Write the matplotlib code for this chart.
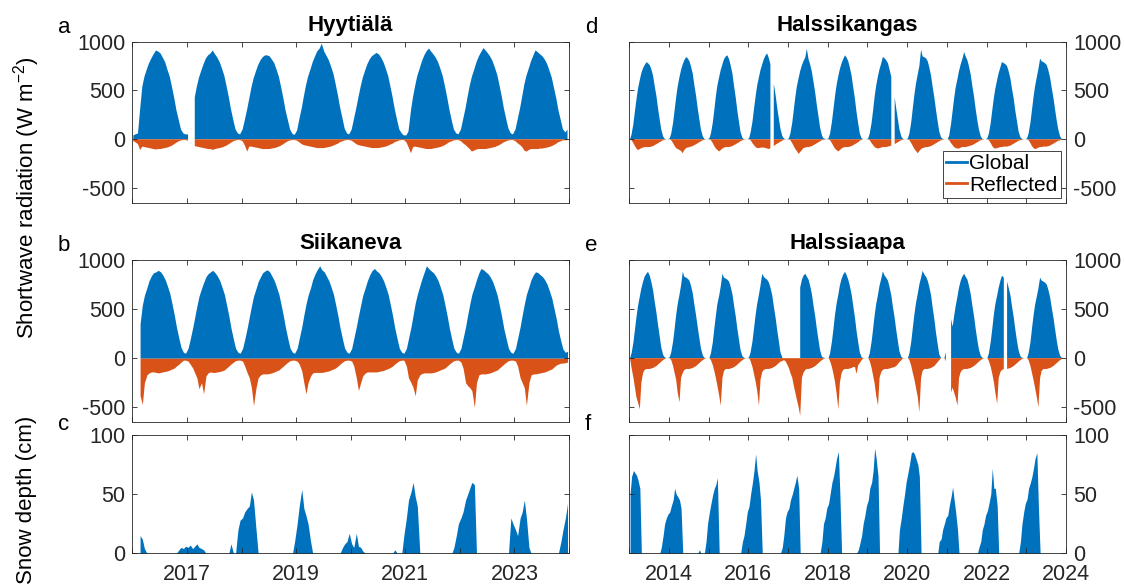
import numpy as np
import pandas as pd
import matplotlib
matplotlib.use("Agg")
import matplotlib.pyplot as plt
from matplotlib.lines import Line2D

plt.rcParams["font.family"] = ["Liberation Sans", "DejaVu Sans"]
plt.rcParams["mathtext.default"] = "regular"
plt.rcParams["axes.unicode_minus"] = False

BLUE, ORANGE, INK = "#0072BD", "#D95319", "#262626"
nan = np.nan

# ---------------------------------------------------------------
# Data: semi-monthly envelopes (one row per year)
# ---------------------------------------------------------------
# Hyytiälä 2016-2023, global (W m-2)
hyy_sw_in = [
    [40, 50, 60, 300, 540, 640, 720, 780, 830, 870, 910, 900, 880, 840, 790, 720, 640, 540, 420, 300, 190, 100, 60, 50],
    [50, nan, nan, 430, 540, 630, 710, 770, 830, 860, 880, 910, 870, 840, 790, 730, 650, 550, 430, 310, 190, 100, 60, 50],
    [100, 190, 310, 420, 530, 620, 700, 760, 810, 840, 860, 860, 850, 820, 780, 720, 640, 540, 420, 300, 190, 100, 55, 45],
    [90, 200, 320, 440, 550, 640, 720, 790, 850, 900, 930, 980, 900, 860, 810, 750, 670, 570, 450, 330, 210, 110, 60, 50],
    [100, 200, 320, 430, 540, 630, 710, 770, 820, 850, 870, 885, 870, 840, 790, 730, 650, 550, 430, 310, 190, 100, 60, 40],
    [40, 80, 300, 440, 550, 650, 730, 800, 860, 900, 930, 900, 870, 840, 790, 730, 650, 550, 430, 310, 190, 100, 60, 50],
    [100, 200, 320, 440, 550, 640, 720, 790, 850, 890, 935, 910, 880, 850, 800, 740, 660, 560, 440, 320, 200, 110, 60, 50],
    [100, 200, 320, 440, 560, 650, 730, 800, 860, 911, 890, 870, 850, 820, 770, 710, 630, 530, 420, 300, 190, 100, 70, 100],
]
# Hyytiälä reflected (W m-2)
hyy_sw_out = [
    [-20, -30, -50, -110, -75, -80, -85, -90, -95, -100, -105, -100, -100, -95, -90, -85, -75, -65, -50, -35, -20, -12, -8, -8],
    [-15, nan, nan, -70, -75, -80, -85, -90, -95, -100, -100, -109, -100, -95, -90, -85, -75, -65, -50, -35, -20, -12, -8, -8],
    [-20, -60, -126, -75, -75, -80, -85, -90, -95, -100, -100, -100, -100, -95, -90, -85, -75, -65, -50, -35, -20, -12, -8, -8],
    [-15, -30, -50, -60, -65, -70, -75, -80, -85, -90, -90, -90, -90, -85, -80, -75, -65, -55, -45, -30, -20, -12, -8, -8],
    [-15, -30, -50, -60, -65, -70, -75, -80, -85, -90, -90, -90, -90, -85, -80, -75, -65, -55, -45, -30, -20, -12, -8, -8],
    [-30, -80, -143, -80, -75, -80, -85, -90, -95, -100, -100, -100, -95, -90, -85, -80, -70, -60, -45, -30, -20, -12, -8, -8],
    [-20, -40, -60, -80, -100, -126, -115, -105, -100, -100, -100, -100, -95, -90, -85, -80, -70, -60, -45, -30, -20, -12, -8, -8],
    [-20, -40, -60, -80, -115, -126, -110, -100, -100, -100, -100, -95, -95, -90, -85, -80, -70, -60, -45, -30, -20, -12, -10, -10],
]
# Siikaneva 2016-2023, global
sii_sw_in = [
    [nan, nan, nan, 350, 540, 640, 720, 790, 840, 870, 880, 895, 880, 850, 800, 740, 660, 560, 440, 320, 200, 110, 60, 50],
    [100, 190, 310, 420, 530, 630, 710, 770, 830, 860, 880, 895, 870, 840, 790, 730, 650, 550, 430, 310, 190, 100, 60, 50],
    [100, 190, 310, 420, 530, 630, 710, 780, 830, 870, 890, 900, 880, 840, 790, 730, 650, 550, 430, 310, 190, 100, 60, 50],
    [100, 200, 320, 440, 550, 640, 720, 800, 860, 900, 941, 900, 880, 840, 790, 730, 650, 550, 430, 310, 190, 100, 60, 50],
    [100, 200, 320, 430, 540, 640, 720, 790, 850, 890, 914, 890, 870, 840, 790, 730, 650, 550, 430, 310, 190, 100, 60, 50],
    [100, 200, 320, 440, 560, 650, 740, 810, 880, 941, 910, 890, 870, 840, 790, 730, 650, 550, 430, 310, 190, 100, 60, 50],
    [100, 200, 320, 440, 550, 650, 730, 800, 870, 914, 900, 880, 860, 830, 780, 720, 640, 540, 420, 300, 190, 100, 60, 50],
    [100, 200, 320, 440, 550, 650, 730, 800, 850, 880, 870, 850, 830, 800, 750, 690, 610, 510, 400, 280, 170, 90, 60, 70],
]
sii_sw_out = [
    [nan, nan, nan, -380, -470, -250, -170, -150, -140, -140, -145, -150, -145, -140, -135, -130, -120, -110, -100, -80, -60, -40, -20, -20],
    [-30, -60, -100, -150, -200, -310, -250, -363, -180, -150, -140, -145, -145, -140, -135, -130, -120, -100, -80, -60, -40, -25, -20, -20],
    [-30, -80, -150, -200, -300, -483, -300, -200, -170, -160, -160, -160, -155, -150, -140, -130, -120, -100, -80, -60, -40, -25, -20, -20],
    [-30, -60, -130, -250, -363, -250, -180, -150, -145, -145, -145, -145, -140, -135, -130, -120, -110, -100, -80, -60, -40, -25, -20, -20],
    [-30, -80, -200, -329, -250, -180, -150, -140, -140, -140, -140, -140, -135, -130, -125, -115, -105, -95, -80, -60, -40, -25, -20, -20],
    [-80, -200, -250, -300, -383, -220, -170, -155, -150, -150, -150, -150, -145, -140, -130, -120, -110, -100, -80, -60, -40, -25, -20, -20],
    [-40, -100, -250, -280, -300, -330, -500, -250, -170, -160, -160, -160, -155, -150, -140, -130, -120, -100, -80, -60, -40, -25, -20, -20],
    [-30, -80, -200, -250, -300, -480, -250, -170, -160, -160, -155, -150, -145, -140, -130, -120, -110, -90, -70, -60, -50, -50, -45, -40],
]
# Hyytiälä snow depth (cm)
hyy_snow = [
    [nan, nan, nan, 15, 12, 4, 0, 0, 0, 0, 0, 0, 0, 0, 0, 0, 0, 0, 0, 0, 3, 5, 4, 6],
    [5, 7, 4, 6, 8, 5, 4, 3, 0, 0, 0, 0, 0, 0, 0, 0, 0, 0, 0, 8, 0, 0, 20, 28],
    [30, 35, 38, 40, 52, 45, 20, 0, 0, 0, 0, 0, 0, 0, 0, 0, 0, 0, 0, 0, 0, 0, 0, 10],
    [25, 40, 54, 38, 32, 25, 10, 0, 0, 0, 0, 0, 0, 0, 0, 0, 0, 0, 0, 0, 5, 8, 10, 17],
    [8, 5, 17, 6, 5, 2, 0, 0, 0, 0, 0, 0, 0, 0, 0, 0, 0, 0, 0, 3, 0, 0, 0, 15],
    [30, 45, 52, 60, 48, 40, 0, 0, 0, 0, 0, 0, 0, 0, 0, 0, 0, 0, 0, 0, 0, 5, 15, 25],
    [30, 35, 45, 50, 55, 60, 58, 0, 0, 0, 0, 0, 0, 0, 0, 0, 0, 0, 0, 0, 0, 0, 30, 25],
    [20, 15, 30, 35, 45, 30, 5, 0, 0, 0, 0, 0, 0, 0, 0, 0, 0, 0, 0, 0, 10, 20, 30, 42],
]
# Halssikangas 2013-2023
hka_sw_in = [
    [0, 50, 160, 290, 410, 520, 610, 680, 730, 760, 790, 780, 760, 720, 650, 550, 440, 320, 200, 100, 30, 5, 0, 0],
    [10, 60, 170, 300, 430, 540, 640, 710, 770, 810, 843, 830, 800, 750, 670, 560, 440, 320, 200, 100, 30, 5, 0, 0],
    [10, 60, 170, 300, 440, 550, 640, 710, 770, 820, 850, 860, 820, 760, 670, 550, 420, 290, 170, 70, 15, 0, 0, 0],
    [10, 70, 180, 310, 440, 550, 640, 710, 770, 820, 860, 880, 830, 770, nan, 570, 450, 330, 210, 110, 35, 10, 0, 0],
    [10, 60, 170, 300, 430, 540, 630, 700, 760, 800, 840, 928, 820, 770, 690, 590, 470, 350, 230, 120, 40, 10, 5, 0],
    [10, 60, 180, 310, 440, 550, 650, 720, 780, 820, 860, 840, 800, 740, 650, 540, 410, 280, 160, 60, 10, 0, 0, 0],
    [10, 60, 170, 300, 440, 550, 650, 720, 780, 843, 830, 810, 780, 720, 640, nan, 430, 320, 200, 100, 30, 5, 0, 0],
    [10, 60, 180, 320, 460, 570, 670, 750, 918, 850, 840, 830, 800, 740, 650, 540, 420, 300, 180, 80, 20, 5, 0, 0],
    [0, 40, 160, 290, 420, 530, 620, 700, 770, 820, 894, 850, 810, 750, 660, 550, 430, 310, 190, 100, 30, 5, 0, 0],
    [10, 60, 170, 300, 420, 520, 610, 680, 740, 792, 780, 770, 750, 700, 620, 520, 410, 290, 180, 80, 20, 5, 0, 0],
    [10, 60, 170, 300, 430, 540, 640, 720, 826, 800, 790, 780, 760, 710, 630, 530, 420, 310, 190, 100, 30, 5, 0, 0],
]
hka_sw_out = [
    [0, -10, -40, -70, -95, -110, -100, -90, -85, -80, -80, -80, -80, -75, -70, -60, -50, -40, -30, -20, -10, -5, 0, 0],
    [0, -10, -40, -70, -90, -100, -110, -120, -143, -110, -90, -85, -80, -75, -70, -60, -50, -40, -30, -20, -10, -5, 0, 0],
    [0, -10, -40, -70, -95, -110, -125, -110, -95, -85, -80, -80, -80, -75, -70, -60, -50, -40, -30, -20, -10, -5, 0, 0],
    [0, -10, -40, -60, -80, -90, -90, -85, -85, -85, -90, -95, -100, -90, nan, -70, -55, -45, -35, -25, -15, -5, 0, 0],
    [0, -10, -40, -70, -100, -120, -150, -130, -110, -90, -85, -80, -80, -75, -70, -60, -50, -40, -30, -20, -10, -5, 0, 0],
    [0, -10, -40, -70, -95, -110, -125, -110, -95, -85, -80, -80, -80, -75, -70, -60, -50, -40, -30, -15, -5, 0, 0, 0],
    [0, -10, -40, -60, -80, -90, -95, -90, -85, -80, -80, -80, -75, -70, -65, nan, -50, -40, -30, -20, -10, -5, 0, 0],
    [0, -10, -40, -70, -100, -120, -143, -120, -100, -90, -85, -80, -80, -75, -70, -60, -50, -40, -30, -20, -10, -5, 0, 0],
    [0, -10, -40, -60, -80, -90, -95, -95, -85, -80, -80, -80, -75, -70, -65, -60, -50, -40, -30, -20, -10, -5, 0, 0],
    [0, -10, -40, -70, -90, -95, -90, -85, -80, -80, -75, -75, -75, -70, -65, -55, -45, -35, -25, -15, -10, -5, 0, 0],
    [0, -10, -40, -70, -90, -100, -95, -85, -80, -80, -75, -75, -75, -70, -65, -55, -45, -35, -25, -15, -10, -5, 0, 0],
]
# Halssiaapa 2013-2023
haa_sw_in = [
    [0, 50, 160, 290, 420, 530, 630, 710, 780, 830, 860, 880, 840, 780, 690, 580, 460, 340, 220, 110, 35, 10, 0, 0],
    [10, 60, 170, 300, 440, 550, 650, 740, 880, 830, 820, 810, 790, 740, 660, 550, 430, 320, 200, 100, 30, 5, 0, 0],
    [0, 50, 160, 300, 430, 550, 640, 730, 860, 820, 810, 800, 780, 730, 650, 540, 420, 300, 180, 80, 20, 5, 0, 0],
    [10, 60, 170, 300, 440, 550, 650, 740, 860, 830, 810, 800, 770, 720, 640, 530, 410, 290, 170, 60, 10, nan, nan, nan],
    [nan, nan, nan, nan, nan, nan, nan, 720, 800, 840, 860, 830, 800, 740, 650, 540, 420, 300, 180, 80, 15, 5, 0, 0],
    [0, 50, 170, 300, 440, 550, 650, 740, 810, 850, 880, 850, 800, 740, 650, 540, 410, 280, 160, 60, 10, 0, 0, 0],
    [0, 50, 170, 300, 440, 550, 650, 740, 810, 884, 840, 820, 790, 730, 640, 530, 410, 290, 170, 70, 15, 0, 0, 0],
    [0, 50, 170, 310, 450, 560, 660, 750, 820, 890, 850, 830, 790, 730, 640, 520, 390, 260, 140, 40, 0, 0, 0, 60],
    [nan, nan, 400, 320, 430, 530, 630, 720, 790, 830, 860, 830, 800, 740, 650, 540, 420, 300, 180, 90, 25, 5, 0, 0],
    [0, 50, 170, 300, 440, 550, 640, 720, 790, 840, 820, nan, 780, 720, 640, 530, 410, 290, 170, 80, 20, 5, 0, 0],
    [0, 50, 160, 300, 430, 540, 630, 710, 820, 790, 780, 770, 750, 700, 620, 520, 410, 300, 180, 90, 25, 5, 0, 0],
]
haa_sw_out = [
    [0, -100, -200, -300, -400, -450, -520, -250, -150, -120, -110, -110, -110, -105, -100, -90, -80, -65, -50, -35, -20, -10, 0, 0],
    [0, -20, -80, -150, -220, -350, -449, -200, -150, -120, -110, -110, -110, -105, -100, -90, -80, -65, -50, -35, -20, -10, 0, 0],
    [0, -20, -70, -130, -200, -280, -380, -483, -200, -130, -110, -110, -110, -105, -100, -90, -80, -65, -50, -35, -20, -10, 0, 0],
    [0, -30, -90, -160, -240, -330, -483, -220, -140, -120, -110, -110, -110, -105, -100, -90, -80, -65, -50, -35, -30, -20, -30, -60],
    [-100, -150, -200, -280, -350, -420, -500, -586, -200, -150, -120, -110, -110, -105, -100, -90, -80, -65, -50, -35, -20, -10, 0, 0],
    [0, -30, -90, -160, -240, -350, -520, -250, -150, -120, -110, -110, -110, -105, -100, -90, -90, -160, -70, -50, -20, -5, 0, 0],
    [0, -30, -100, -180, -260, -380, -483, -200, -140, -120, -110, -110, -110, -105, -100, -95, -90, -80, -60, -40, -20, -5, 0, 0],
    [0, -20, -80, -150, -220, -300, -400, -551, -200, -130, -110, -110, -110, -105, -100, -90, -80, -60, -40, -20, 0, 0, 0, -30],
    [nan, nan, -350, -300, -350, -400, -483, -200, -140, -120, -110, -110, -110, -105, -100, -90, -80, -65, -50, -35, -20, -10, 0, 0],
    [0, -30, -90, -160, -240, -350, -466, -200, -140, -120, -110, nan, -110, -105, -100, -90, -80, -65, -50, -35, -20, -10, 0, 0],
    [0, -20, -80, -150, -220, -300, -400, -500, -200, -130, -110, -110, -110, -105, -100, -90, -80, -65, -50, -35, -20, -10, 0, 0],
]
haa_snow = [
    [50, 65, 70, 68, 66, 62, 55, 0, 0, 0, 0, 0, 0, 0, 0, 0, 0, 0, 0, 5, 15, 25, 30, 33],
    [35, 40, 45, 55, 50, 48, 45, 38, 0, 0, 0, 0, 0, 0, 0, 0, 0, 0, 3, 0, 0, 0, 10, 25],
    [35, 42, 50, 55, 58, 64, 0, 0, 0, 0, 0, 0, 0, 0, 0, 0, 0, 0, 0, 0, 10, 15, 25, 35],
    [40, 50, 60, 70, 84, 70, 60, 45, 0, 0, 0, 0, 0, 0, 0, 0, 0, 0, 0, 0, 5, 15, 30, 35],
    [38, 45, 50, 55, 60, 66, 55, 0, 0, 0, 0, 0, 0, 0, 0, 0, 0, 0, 0, 0, 10, 25, 30, 38],
    [42, 50, 60, 65, 72, 80, 86, 50, 0, 0, 0, 0, 0, 0, 0, 0, 0, 0, 3, 8, 15, 25, 32, 40],
    [45, 55, 60, 70, 89, 80, 65, 0, 0, 0, 0, 0, 0, 0, 0, 0, 0, 0, 0, 20, 30, 40, 50, 60],
    [68, 75, 85, 86, 84, 80, 75, 65, 0, 0, 0, 0, 0, 0, 0, 0, 0, 0, 0, 10, 12, 20, 25, 30],
    [32, 40, 48, 56, 45, 35, 20, 0, 0, 0, 0, 0, 0, 0, 0, 0, 0, 0, 0, 5, 10, 20, 25, 32],
    [36, 42, 50, 72, 55, 55, 40, 0, 0, 0, 0, 0, 0, 0, 0, 0, 0, 0, 0, 0, 10, 25, 35, 42],
    [46, 55, 60, 65, 72, 80, 85, 40, 0, 0, 0, 0, 0, 0, 0, 0, 0, 0, 0, 0, 0, 0, 0, 0],
]

titles = ["Hyytiälä", "Siikaneva", "Halssikangas", "Halssiaapa"]
letters = ["a", "b", "c", "d", "e", "f"]
legend_labels = ["Global", "Reflected"]
rad_ticks = [-500, 0, 500, 1000]
snow_ticks = [0, 50, 100]
left_years = list(range(2016, 2025))
right_years = list(range(2013, 2025))
left_year_labels = ["", "2017", "", "2019", "", "2021", "", "2023", ""]
right_year_labels = ["", "2014", "", "2016", "", "2018", "", "2020", "", "2022", "", "2024"]

TICK_FS = 15.5


def semimonthly(start_year, rows):
    vals = np.array(rows, dtype=float).ravel()
    dates = pd.date_range(f"{start_year}-01-01", periods=len(vals), freq="SMS") + pd.Timedelta(days=7)
    return dates, vals


def style(ax, years, year_labels, show_x, right):
    for s in ax.spines.values():
        s.set_color(INK)
        s.set_linewidth(0.6)
    ax.set_xlim(pd.Timestamp(f"{years[0]}-01-01"), pd.Timestamp(f"{years[-1]}-01-01"))
    ax.set_xticks([pd.Timestamp(f"{y}-01-01") for y in years])
    ax.set_xticklabels(year_labels if show_x else [""] * len(years))
    ax.tick_params(direction="in", length=3.6, width=0.6, colors=INK,
                   top=True, bottom=True, left=True, right=True,
                   labelsize=TICK_FS, labelleft=not right, labelright=right)
    ax.tick_params(axis="y", pad=5)
    ax.tick_params(axis="x", pad=8)


def rad_panel(ax, start, glob, refl, title, years, labels, right):
    d, g = semimonthly(start, glob)
    _, r = semimonthly(start, refl)
    ax.fill_between(d, 0, g, color=BLUE, lw=0)
    ax.fill_between(d, 0, r, color=ORANGE, lw=0)
    ax.set_ylim(-650, 1000)
    ax.set_yticks(rad_ticks)
    ax.set_title(title, fontsize=16, fontweight="bold", pad=8)
    style(ax, years, labels, False, right)


def snow_panel(ax, start, snow, years, labels, right):
    d, s = semimonthly(start, snow)
    ax.fill_between(d, 0, s, color=BLUE, lw=0)
    ax.set_ylim(0, 100)
    ax.set_yticks(snow_ticks)
    style(ax, years, labels, True, right)


W, H = 1124, 588
fig = plt.figure(figsize=(W / 100, H / 100), dpi=100)


def px_axes(x0, x1, y0, y1):
    return fig.add_axes([x0 / W, 1 - y1 / H, (x1 - x0) / W, (y1 - y0) / H])


ax_a = px_axes(132.3, 569, 41.7, 202.7)
ax_b = px_axes(132.3, 569, 260, 422)
ax_c = px_axes(132.3, 569, 435, 553.3)
ax_d = px_axes(629.3, 1066, 41.7, 202.7)
ax_e = px_axes(629.3, 1066, 260, 422)
ax_f = px_axes(629.3, 1066, 435, 553.3)

rad_panel(ax_a, 2016, hyy_sw_in, hyy_sw_out, titles[0], left_years, left_year_labels, False)
rad_panel(ax_b, 2016, sii_sw_in, sii_sw_out, titles[1], left_years, left_year_labels, False)
snow_panel(ax_c, 2016, hyy_snow, left_years, left_year_labels, False)
rad_panel(ax_d, 2013, hka_sw_in, hka_sw_out, titles[2], right_years, right_year_labels, True)
rad_panel(ax_e, 2013, haa_sw_in, haa_sw_out, titles[3], right_years, right_year_labels, True)
snow_panel(ax_f, 2013, haa_snow, right_years, right_year_labels, True)

# legend in panel d
handles = [Line2D([], [], color=BLUE, lw=2), Line2D([], [], color=ORANGE, lw=2)]
leg = ax_d.legend(handles, legend_labels, loc="lower right", bbox_to_anchor=(0.988, 0.031),
                  borderaxespad=0, fancybox=False, framealpha=1, edgecolor=INK,
                  handlelength=1.0, handletextpad=0.12, borderpad=0.15, labelspacing=0.12,
                  fontsize=15)
leg.get_frame().set_linewidth(0.6)

# panel letters
for lab, (x, y) in zip(letters, [(64, 33), (64, 251), (64, 430), (591, 33), (591, 251), (588, 430)]):
    fig.text(x / W, 1 - y / H, lab, fontsize=16, ha="center", va="baseline")

# y labels
fig.text(27 / W, 1 - 198 / H, "Shortwave radiation (W m$^{-2}$)", rotation=90,
         ha="center", va="center", fontsize=16)
fig.text(27 / W, 1 - 500 / H, "Snow depth (cm)", rotation=90,
         ha="center", va="center", fontsize=16)

fig.savefig("out.png", dpi=100)
